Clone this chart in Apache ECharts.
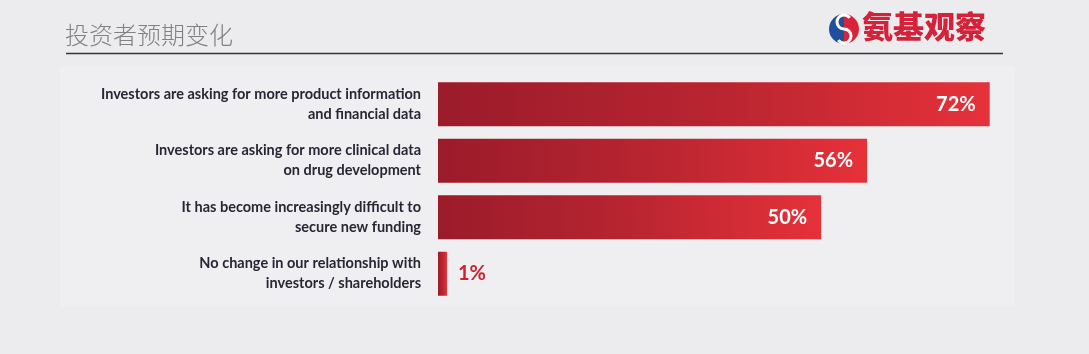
<!DOCTYPE html>
<html>
<head>
<meta charset="utf-8">
<script src="https://cdn.jsdelivr.net/npm/echarts@6/dist/echarts.min.js"></script>
<style>
html,body{margin:0;padding:0;background:#ececee;}
#c{width:1089px;height:354px;}
</style>
</head>
<body>
<div id="c"></div>
<script>
const titleText = '投资者预期变化';
const logoText = '氨基观察';
const categories = [
  'Investors are asking for more product information\nand financial data',
  'Investors are asking for more clinical data\non drug development',
  'It has become increasingly difficult to\nsecure new funding',
  'No change in our relationship with\ninvestors / shareholders'
];
const values = [72, 56, 50, 1];

const chart = echarts.init(document.getElementById('c'));
const barGrad = new echarts.graphic.LinearGradient(0, 0, 1, 0, [
  {offset: 0, color: '#9b1b2b'},
  {offset: 0.5, color: '#b82530'},
  {offset: 1, color: '#e6313a'}
]);
const seriesData = values.map(function (v) {
  if (v < 10) {
    return {value: v, label: {position: 'right', distance: 11, color: '#cc2233'}};
  }
  return v;
});
chart.setOption({
  backgroundColor: '#ececee',
  animation: false,
  graphic: [
    {type: 'rect', shape: {x: 60, y: 66, width: 955, height: 240}, style: {fill: '#efeff1'}, silent: true, z: -10},
    {type: 'text', left: 65, top: 23, style: {text: titleText, fontSize: 24, fontFamily: 'Noto Sans CJK SC', fontWeight: 300, fill: '#808085'}},
    {type: 'line', shape: {x1: 66, y1: 53.5, x2: 1003, y2: 53.5}, style: {stroke: '#333337', lineWidth: 1.6}},
    {type: 'sector', shape: {cx: 844, cy: 29, r: 15, r0: 0, startAngle: Math.PI / 2, endAngle: Math.PI * 3 / 2}, style: {fill: '#1f4f9e'}},
    {type: 'sector', shape: {cx: 844, cy: 29, r: 15, r0: 0, startAngle: -Math.PI / 2, endAngle: Math.PI / 2}, style: {fill: '#d8243a'}},
    {type: 'arc', shape: {cx: 844, cy: 22, r: 7, startAngle: Math.PI * 0.5, endAngle: Math.PI * 1.8}, style: {stroke: '#ffffff', lineWidth: 3, fill: null}},
    {type: 'arc', shape: {cx: 844, cy: 36, r: 7, startAngle: -Math.PI * 0.5, endAngle: Math.PI * 0.8}, style: {stroke: '#ffffff', lineWidth: 3, fill: null}},
    {type: 'text', left: 862, top: 11, style: {text: logoText, fontSize: 31, fontFamily: 'Noto Sans CJK SC', fontWeight: 900, fill: '#d4223a'}}
  ],
  grid: {left: 438, right: 38, top: 76, bottom: 52, containLabel: false},
  xAxis: {type: 'value', min: 0, max: 80, show: false},
  yAxis: {
    type: 'category', data: categories, inverse: true,
    axisLine: {show: false}, axisTick: {show: false},
    axisLabel: {
      margin: 17, align: 'right', fontFamily: 'Lato', fontWeight: 'bold',
      fontSize: 14.5, lineHeight: 20, color: '#2a2535'
    }
  },
  series: [{
    type: 'bar', data: seriesData, barWidth: 44, barMinHeight: 9,
    itemStyle: {color: barGrad},
    label: {
      show: true, formatter: '{c}%', fontFamily: 'Lato', fontWeight: 'bold', fontSize: 20,
      position: 'insideRight', distance: 14, color: '#ffffff'
    }
  }]
});
</script>
</body>
</html>
